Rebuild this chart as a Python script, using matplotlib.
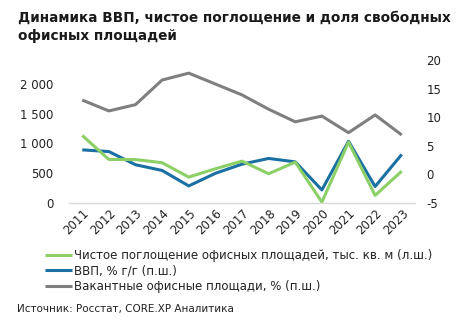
import numpy as np
import matplotlib.pyplot as plt

years = ['2011', '2012', '2013', '2014', '2015', '2016', '2017',
         '2018', '2019', '2020', '2021', '2022', '2023']

# net absorption, thousand sq. m (left axis)
absorption = [1134, 732, 730, 677, 436, 576, 704, 492, 687, 17, 1022, 129, 536]
# GDP, % y/y (right axis)
gdp = [4.3, 4.0, 1.7, 0.7, -2.0, 0.2, 1.8, 2.8, 2.2, -2.7, 5.8, -2.1, 3.5]
# vacancy rate, % (right axis)
vacancy = [13.0, 11.1, 12.2, 16.5, 17.7, 15.8, 13.9, 11.4, 9.2, 10.2, 7.3, 10.4, 6.9]

c_green = '#8ccf66'
c_blue = '#1a6fa3'
c_gray = '#7f7f7f'

plt.rcParams['font.family'] = 'DejaVu Sans'
plt.rcParams['axes.unicode_minus'] = False

fig = plt.figure(figsize=(4.69, 3.26), dpi=100)
ax = fig.add_axes([0.147, 0.377, 0.738, 0.439])
ax2 = ax.twinx()

x = np.arange(len(years))
l1, = ax.plot(x, absorption, color=c_green, lw=2.2, solid_capstyle='butt')
l2, = ax2.plot(x, gdp, color=c_blue, lw=2.2, solid_capstyle='butt')
l3, = ax2.plot(x, vacancy, color=c_gray, lw=2.2, solid_capstyle='butt')
ax.set_zorder(ax2.get_zorder() + 1)
ax.patch.set_visible(False)

ax.set_xlim(-0.5, len(years) - 0.5)
ax.set_ylim(0, 2400)
ax.set_yticks([0, 500, 1000, 1500, 2000])
ax.set_yticklabels(['0', '500', '1 000', '1 500', '2 000'])
ax2.set_ylim(-5, 20)
ax2.set_yticks([-5, 0, 5, 10, 15, 20])

ax.set_xticks(x)
ax.set_xticklabels(years, rotation=45, ha='right', rotation_mode='anchor')

for a in (ax, ax2):
    for s in ('top', 'left', 'right', 'bottom'):
        a.spines[s].set_visible(False)
    a.tick_params(length=0, labelsize=8.5, colors='#222222')
ax.spines['bottom'].set_visible(True)
ax.spines['bottom'].set_color('#d9d9d9')
ax.spines['bottom'].set_linewidth(1)
ax.tick_params(axis='y', pad=11)
ax.tick_params(axis='x', pad=3)
ax2.tick_params(axis='y', pad=8)

fig.text(0.038, 0.968, 'Динамика ВВП, чистое поглощение и доля свободных\nофисных площадей',
         fontsize=9.8, fontweight='bold', color='#1a1a1a', va='top', ha='left',
         linespacing=1.42)

fig.legend([l1, l2, l3],
           ['Чистое поглощение офисных площадей, тыс. кв. м (л.ш.)',
            'ВВП, % г/г (п.ш.)',
            'Вакантные офисные площади, % (п.ш.)'],
           loc='upper left', bbox_to_anchor=(0.095, 0.236), frameon=False,
           fontsize=8.5, handlelength=2.3, handletextpad=0.2, labelspacing=0.2,
           borderpad=0, borderaxespad=0, labelcolor='#222222')

fig.text(0.036, 0.052, 'Источник: Росстат, CORE.XP Аналитика', fontsize=7.5,
         color='#222222', ha='left', va='center')

fig.savefig('out.png', dpi=100)
